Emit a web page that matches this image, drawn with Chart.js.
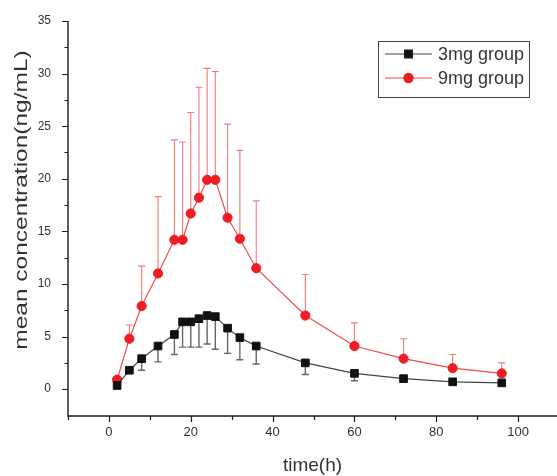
<!DOCTYPE html>
<html>
<head>
<meta charset="utf-8">
<script src="https://cdn.jsdelivr.net/npm/chart.js@4.4.1/dist/chart.umd.min.js"></script>
<style>
  html, body { margin: 0; padding: 0; background: #fff; }
  #wrap { width: 557px; height: 476px; }
</style>
</head>
<body>
<div id="wrap"><canvas id="pkChart" width="557" height="476"></canvas></div>
<script>
// Tiempos de muestreo (h)
const times = [2, 5, 8, 12, 16, 18, 20, 22, 24, 26, 29, 32, 36, 48, 60, 72, 84, 96];

// Grupo 3 mg: media y DE (barra hacia abajo)
const mean3 = [0.35, 1.8, 2.9, 4.1, 5.2, 6.4, 6.4, 6.7, 7.0, 6.9, 5.8, 4.9, 4.1, 2.5, 1.5, 1.0, 0.7, 0.6];
const sd3 = [0.2, 0.3, 1.1, 1.5, 1.9, 2.4, 2.4, 2.7, 2.7, 3.1, 2.4, 2.1, 1.7, 1.1, 0.7, 0.2, 0.15, 0.1];

// Grupo 9 mg: media y DE (barra hacia arriba)
const mean9 = [0.9, 4.8, 7.9, 11.0, 14.2, 14.2, 16.7, 18.2, 19.9, 19.9, 16.3, 14.3, 11.5, 7.0, 4.1, 2.9, 2.0, 1.5];
const sd9 = [0.3, 1.3, 3.8, 7.3, 9.5, 9.3, 9.6, 10.5, 10.6, 10.3, 8.9, 8.4, 6.4, 3.9, 2.2, 1.9, 1.3, 1.0];

const seriesNames = ['3mg group', '9mg group'];
const xTickValues = [0, 20, 40, 60, 80, 100];
const yTickValues = [0, 5, 10, 15, 20, 25, 30, 35];

const FONT = "'Liberation Sans', Arial, sans-serif";
const COLORS = {
  axis: '#1a1a1a',
  text: '#333333',
  black: '#111111',
  blackLine: '#444444',
  blackErr: '#666666',
  red: '#ee1c24',
  redLine: '#f24a4a',
  redErr: '#f57a7a'
};

const toPoints = (vals) => times.map((t, i) => ({ x: t, y: vals[i] }));

// Barras de error, ejes con marcas menores, títulos y leyenda al estilo Origin
const originPlugin = {
  id: 'originStyle',
  beforeDatasetsDraw(chart) {
    const { ctx, scales: { y } } = chart;
    const errs = [
      { index: 0, sd: sd3, dir: -1, color: COLORS.blackErr, width: 1.4 },
      { index: 1, sd: sd9, dir: 1, color: COLORS.redErr, width: 1.1 }
    ];
    ctx.save();
    errs.forEach(e => {
      const meta = chart.getDatasetMeta(e.index);
      const data = chart.data.datasets[e.index].data;
      ctx.strokeStyle = e.color;
      ctx.lineWidth = e.width;
      meta.data.forEach((pt, i) => {
        const end = y.getPixelForValue(data[i].y + e.dir * e.sd[i]);
        ctx.beginPath();
        ctx.moveTo(pt.x, pt.y);
        ctx.lineTo(pt.x, end);
        ctx.moveTo(pt.x - 3.5, end);
        ctx.lineTo(pt.x + 3.5, end);
        ctx.stroke();
      });
    });
    ctx.restore();
  },
  afterDraw(chart) {
    const { ctx, chartArea: area, scales: { x, y } } = chart;
    ctx.save();

    // Ejes
    ctx.strokeStyle = COLORS.axis;
    ctx.lineWidth = 1.4;
    ctx.beginPath();
    ctx.moveTo(area.left, area.top);
    ctx.lineTo(area.left, area.bottom);
    ctx.lineTo(area.right, area.bottom);
    ctx.stroke();

    // Marcas eje X (mayores cada 20, menores cada 10)
    ctx.lineWidth = 1.2;
    ctx.beginPath();
    for (let v = -10; v <= x.max; v += 10) {
      const px = Math.round(x.getPixelForValue(v)) + 0.5;
      const len = (v >= 0 && v % 20 === 0) ? 6 : 4;
      ctx.moveTo(px, area.bottom);
      ctx.lineTo(px, area.bottom + len);
    }
    // Marcas eje Y (mayores cada 5, menores cada 2.5)
    for (let v = 0; v <= y.max; v += 2.5) {
      const py = Math.round(y.getPixelForValue(v)) + 0.5;
      const len = (v % 5 === 0) ? 6 : 3.5;
      ctx.moveTo(area.left, py);
      ctx.lineTo(area.left - len, py);
    }
    ctx.stroke();

    // Título eje X
    ctx.fillStyle = COLORS.text;
    ctx.font = `19px ${FONT}`;
    ctx.textAlign = 'center';
    ctx.textBaseline = 'middle';
    ctx.fillText('time(h)', (area.left + area.right) / 2, 466);

    // Título eje Y (texto estirado como en la figura original)
    ctx.save();
    ctx.translate(22, 200);
    ctx.rotate(-Math.PI / 2);
    ctx.scale(1.36, 1);
    ctx.font = `18px ${FONT}`;
    ctx.fillText('mean concentration(ng/mL)', 0, 0);
    ctx.restore();

    // Leyenda
    ctx.strokeStyle = '#444444';
    ctx.lineWidth = 1;
    ctx.strokeRect(378.5, 41.5, 151, 56);
    ctx.font = `18px ${FONT}`;
    ctx.textAlign = 'left';
    chart.data.datasets.forEach((ds, i) => {
      const ly = 54 + i * 24;
      ctx.strokeStyle = ds.borderColor;
      ctx.lineWidth = ds.borderWidth;
      ctx.beginPath();
      ctx.moveTo(385, ly);
      ctx.lineTo(432, ly);
      ctx.stroke();
      ctx.fillStyle = ds.pointBackgroundColor;
      ctx.strokeStyle = ds.pointBorderColor;
      Chart.helpers.drawPoint(ctx, {
        pointStyle: ds.pointStyle,
        radius: ds.pointRadius,
        borderWidth: 1,
        rotation: 0
      }, 408.5, ly);
      ctx.fillStyle = COLORS.text;
      ctx.fillText(ds.label, 438, ly + 1);
    });

    ctx.restore();
  }
};

const ctx = document.getElementById('pkChart');

new Chart(ctx, {
  type: 'line',
  data: {
    datasets: [{
      label: seriesNames[0],
      data: toPoints(mean3),
      borderColor: COLORS.blackLine,
      borderWidth: 1.2,
      pointStyle: 'rect',
      pointRadius: 5.4,
      pointBackgroundColor: COLORS.black,
      pointBorderColor: COLORS.black,
      pointBorderWidth: 1,
      tension: 0
    }, {
      label: seriesNames[1],
      data: toPoints(mean9),
      borderColor: COLORS.redLine,
      borderWidth: 1.2,
      pointStyle: 'circle',
      pointRadius: 4.6,
      pointBackgroundColor: COLORS.red,
      pointBorderColor: COLORS.red,
      pointBorderWidth: 1,
      tension: 0
    }]
  },
  options: {
    responsive: false,
    devicePixelRatio: 1,
    animation: false,
    layout: {
      autoPadding: false,
      padding: { top: 21, right: 0, bottom: 0, left: 0 }
    },
    plugins: {
      legend: { display: false },
      tooltip: { enabled: false }
    },
    scales: {
      x: {
        type: 'linear',
        min: -10,
        max: 109.5,
        afterBuildTicks: (axis) => { axis.ticks = xTickValues.map(v => ({ value: v })); },
        afterFit: (axis) => {
          axis.height = 60;
          axis.paddingLeft = 0;
          axis.paddingRight = 0;
        },
        grid: { display: false, drawTicks: false },
        border: { display: false },
        ticks: {
          padding: 9,
          color: COLORS.text,
          font: { family: FONT, size: 13 },
          maxRotation: 0
        }
      },
      y: {
        type: 'linear',
        min: -2.55,
        max: 35,
        afterBuildTicks: (axis) => { axis.ticks = yTickValues.map(v => ({ value: v })); },
        afterFit: (axis) => {
          axis.width = 68;
          axis.paddingTop = 0;
          axis.paddingBottom = 0;
        },
        grid: { display: false, drawTicks: false },
        border: { display: false },
        ticks: {
          padding: 17,
          color: COLORS.text,
          font: { family: FONT, size: 12 }
        }
      }
    }
  },
  plugins: [originPlugin]
});
</script>
</body>
</html>
